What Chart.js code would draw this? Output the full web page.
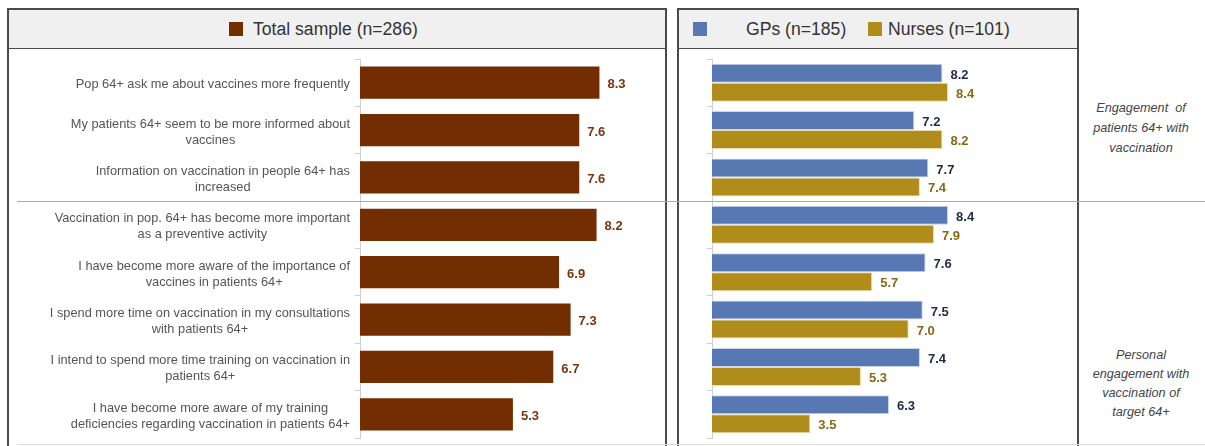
<!DOCTYPE html>
<html>
<head>
<meta charset="utf-8">
<script src="https://cdn.jsdelivr.net/npm/chart.js@4"></script>
<style>
  body { margin: 0; width: 1205px; height: 446px; background: #fff; position: relative; overflow: hidden;
         font-family: "Liberation Sans", Arial, sans-serif; }
  .panel { position: absolute; top: 8px; height: 460px; border: 2px solid #4a4a4a; box-sizing: border-box; }
  .head { position: absolute; left: 0; right: 0; top: 0; height: 38px; background: #f0f0f0;
          border-bottom: 1px solid #4a4a4a; }
  .sw { position: absolute; top: 12px; width: 14px; height: 14px; }
  .lt { position: absolute; top: 9px; font-size: 17.6px; color: #333; line-height: 20px; white-space: nowrap; }
  .hline { position: absolute; height: 1px; background: #aaa; z-index: 5; }
  .side { position: absolute; width: 130px; text-align: center; font-style: italic; font-size: 12.7px;
          color: #444; line-height: 20px; }
  canvas { position: absolute; }
</style>
</head>
<body>
<div class="panel" style="left:7px; width:660px;">
  <div class="head">
    <div class="sw" style="left:220px; background:#722e00;"></div>
    <div class="lt" style="left:244px;">Total sample (n=286)</div>
  </div>
</div>
<div class="panel" style="left:677px; width:402px;">
  <div class="head">
    <div class="sw" style="left:14px; background:#5878b4;"></div>
    <div class="lt" style="left:67px;">GPs (n=185)</div>
    <div class="sw" style="left:189px; background:#b08c1a;"></div>
    <div class="lt" style="left:209px;">Nurses (n=101)</div>
  </div>
</div>
<canvas id="totalChart" width="655" height="396" style="left:9px; top:48px;"></canvas>
<canvas id="groupChart" width="397" height="396" style="left:679px; top:48px;"></canvas>
<div class="hline" style="left:17px; width:1188px; top:201px;"></div>
<div class="hline" style="left:17px; width:1188px; top:444px; background:#ddd;"></div>
<div class="side" style="left:1076px; top:98px;">Engagement&nbsp; of<br>patients 64+ with<br>vaccination</div>
<div class="side" style="left:1076px; top:346px; line-height:19px;">Personal<br>engagement with<br>vaccination of<br>target 64+</div>

<script>
const categories = [
  "Pop 64+ ask me about vaccines more frequently",
  ["My patients 64+ seem to be more informed about", "vaccines"],
  ["Information on vaccination in people 64+ has", "increased"],
  ["Vaccination in pop. 64+ has become more important", "as a preventive activity"],
  ["I have become more aware of the importance of", "vaccines in patients 64+"],
  ["I spend more time on vaccination in my consultations", "with patients 64+"],
  ["I intend to spend more time training on vaccination in", "patients 64+"],
  ["I have become more aware of my training", "deficiencies regarding vaccination in patients 64+"]
];
const totalSample = [8.3, 7.6, 7.6, 8.2, 6.9, 7.3, 6.7, 5.3];
const gps = [8.2, 7.2, 7.7, 8.4, 7.6, 7.5, 7.4, 6.3];
const nurses = [8.4, 8.2, 7.4, 7.9, 5.7, 7.0, 5.3, 3.5];

// draws the value next to the end of each bar
const valueLabels = {
  id: "valueLabels",
  afterDatasetsDraw(chart) {
    const ctx = chart.ctx;
    ctx.save();
    ctx.font = "bold 13px 'Liberation Sans', Arial, sans-serif";
    ctx.textBaseline = "middle";
    ctx.textAlign = "left";
    chart.data.datasets.forEach((ds, i) => {
      ctx.fillStyle = ds.labelColor;
      chart.getDatasetMeta(i).data.forEach((bar, j) => {
        ctx.fillText(ds.data[j].toFixed(1), bar.x + 8, bar.y + 2);
      });
    });
    ctx.restore();
  }
};

// category labels: block sits right of axis, lines centred inside the block
const categoryLabels = {
  id: "categoryLabels",
  afterDraw(chart) {
    const ctx = chart.ctx;
    const y = chart.scales.y;
    ctx.save();
    ctx.font = "12.8px 'Liberation Sans', Arial, sans-serif";
    ctx.fillStyle = "#555";
    ctx.textAlign = "center";
    ctx.textBaseline = "middle";
    chart.data.labels.forEach((lab, i) => {
      const lines = Array.isArray(lab) ? lab : [lab];
      const w = Math.max(...lines.map(l => ctx.measureText(l).width));
      const cx = y.right - 10 - w / 2;
      const cy = y.getPixelForTick(i) + 2;
      lines.forEach((l, k) => {
        ctx.fillText(l, cx, cy + (k - (lines.length - 1) / 2) * 16);
      });
    });
    ctx.restore();
  }
};

function yAxis(width) {
  return {
    afterFit(scale) { scale.width = width; },
    grid: { display: true, drawOnChartArea: false, offset: true, tickLength: 5, color: "#cfcfcf" },
    border: { color: "#cfcfcf" },
    ticks: { display: false }
  };
}

new Chart(document.getElementById("totalChart").getContext("2d"), {
  type: "bar",
  data: {
    labels: categories,
    datasets: [{
      data: totalSample,
      backgroundColor: "#722e00",
      labelColor: "#7a3410",
      barPercentage: 0.68,
      categoryPercentage: 1
    }]
  },
  options: {
    indexAxis: "y",
    responsive: false,
    animation: false,
    layout: { padding: { top: 11, bottom: 6, right: 15.5, left: 0 } },
    scales: {
      x: { display: false, min: 0, max: 10 },
      y: yAxis(351)
    },
    plugins: { legend: { display: false }, tooltip: { enabled: false } }
  },
  plugins: [valueLabels, categoryLabels]
});

new Chart(document.getElementById("groupChart").getContext("2d"), {
  type: "bar",
  data: {
    labels: categories,
    datasets: [{
      data: gps,
      backgroundColor: "#5878b4",
      borderColor: "#c9d5ec",
      borderWidth: 1,
      labelColor: "#1f2a44",
      barPercentage: 1,
      categoryPercentage: 0.8
    }, {
      data: nurses,
      backgroundColor: "#b08c1a",
      borderColor: "#eadcae",
      borderWidth: 1,
      labelColor: "#876814",
      barPercentage: 1,
      categoryPercentage: 0.8
    }]
  },
  options: {
    indexAxis: "y",
    responsive: false,
    animation: false,
    layout: { padding: { top: 11, bottom: 6, right: 83, left: 0 } },
    scales: {
      x: { display: false, min: 0, max: 10 },
      y: yAxis(33)
    },
    plugins: { legend: { display: false }, tooltip: { enabled: false } }
  },
  plugins: [valueLabels]
});
</script>
</body>
</html>
